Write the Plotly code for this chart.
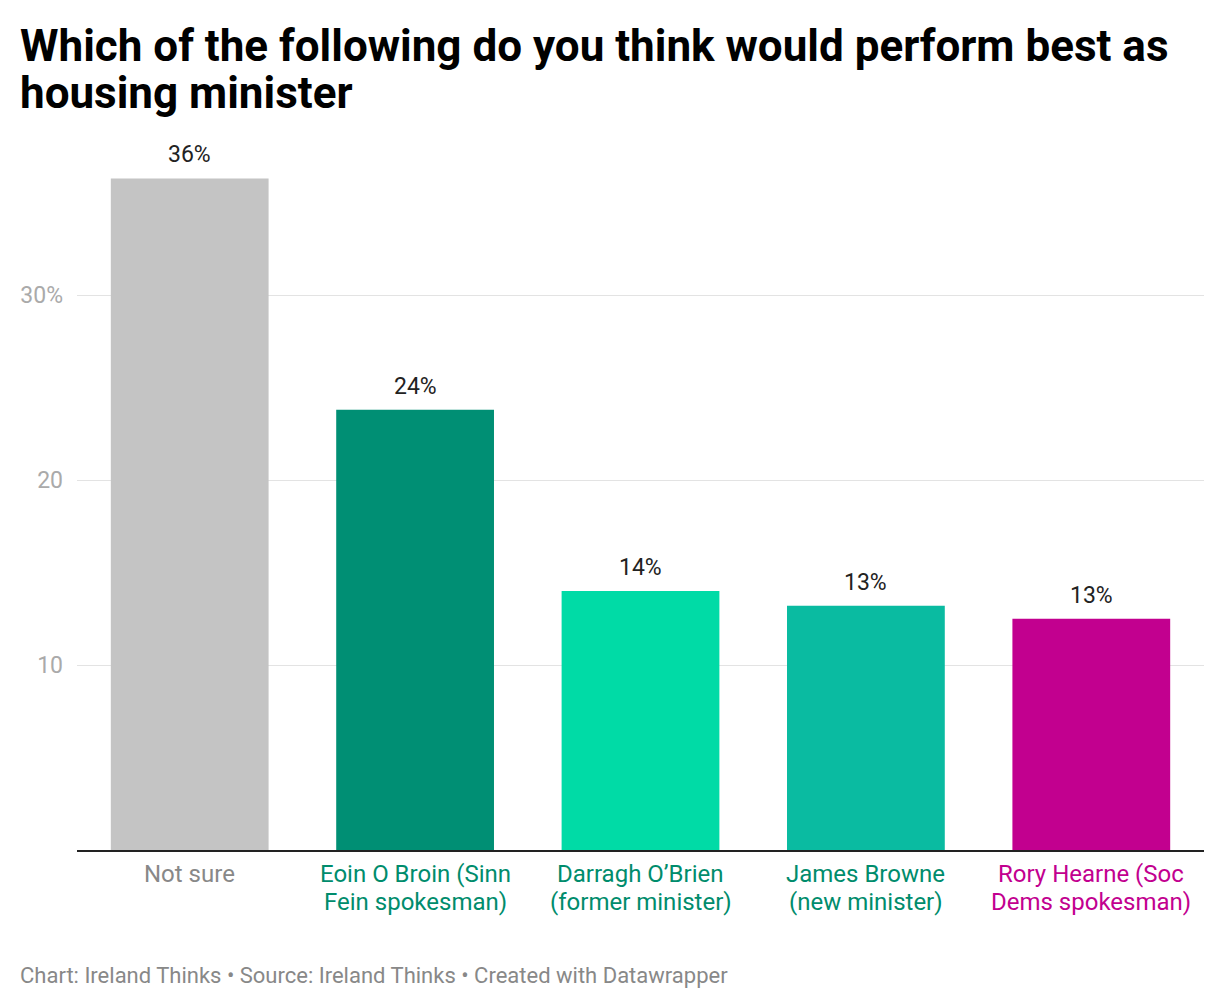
import plotly.graph_objects as go

categories = ["Not sure", "Eoin O Broin (Sinn<br>Fein spokesman)", "Darragh O’Brien<br>(former minister)",
              "James Browne<br>(new minister)", "Rory Hearne (Soc<br>Dems spokesman)"]
values = [36.3, 23.8, 14.0, 13.2, 12.5]
value_labels = ["36%", "24%", "14%", "13%", "13%"]
bar_colors = ["#c4c4c4", "#008f74", "#00dba6", "#0abba1", "#c2008f"]
label_colors = ["#888888", "#008c6c", "#008c6c", "#008c6c", "#c2008f"]
y_tickvals = [10, 20, 30]
y_ticktext = ["10", "20", "30%"]
title_lines = ["Which of the following do you think would perform best as", "housing minister"]
footer = "Chart: Ireland Thinks • Source: Ireland Thinks • Created with Datawrapper"

FONT = "Roboto"
x_idx = list(range(len(categories)))

# page has ~8px body offset; figure coords = page coords - 8
W, H = 1216, 1000
ML, MT = 69, 139
PLOT_W = 1196 - ML
PLOT_H = 842 - MT

def px_x(page_x):
    return (page_x - 8 - ML) / PLOT_W

def px_y(page_y):
    return (842 - (page_y - 8)) / PLOT_H

fig = go.Figure()
fig.add_trace(go.Bar(
    x=x_idx, y=values,
    marker=dict(color=bar_colors, line=dict(width=0)),
    cliponaxis=False, hoverinfo="skip",
))

for i, (v, lab) in enumerate(zip(values, value_labels)):
    fig.add_annotation(
        x=i, y=v, xref="x", yref="y", text=lab, showarrow=False,
        yanchor="bottom", yshift=8,
        font=dict(family=FONT, size=23, color="#222222"),
    )

# category labels, one annotation per line for tight line spacing
for i, (cat, col) in enumerate(zip(categories, label_colors)):
    for j, line in enumerate(cat.split("<br>")):
        fig.add_annotation(
            x=i, xref="x", y=px_y(874 + 28 * j), yref="paper",
            text=line, showarrow=False, xanchor="center", yanchor="middle",
            font=dict(family=FONT, size=24, color=col),
        )

fig.update_layout(
    width=W, height=H,
    margin=dict(l=ML, r=W - 1196, t=MT, b=H - 842),
    paper_bgcolor="white", plot_bgcolor="white",
    bargap=0.3, showlegend=False,
    font=dict(family=FONT),
    xaxis=dict(
        tickvals=x_idx, showticklabels=False,
        showgrid=False, zeroline=False,
        showline=True, linecolor="#222222", linewidth=2,
        ticks="", range=[-0.5, len(categories) - 0.5],
    ),
    yaxis=dict(
        range=[0, 38], tickvals=y_tickvals, ticktext=y_ticktext,
        tickfont=dict(family=FONT, size=23, color="#aaaaaa"),
        showgrid=True, gridcolor="#e3e3e3", gridwidth=1,
        zeroline=False, showline=False, ticks="", ticklabelstandoff=13,
    ),
)

for line, cy in zip(title_lines, [46, 93]):
    fig.add_annotation(
        text=f"<b>{line}</b>", xref="paper", yref="paper",
        x=px_x(18), y=px_y(cy), xanchor="left", yanchor="middle",
        showarrow=False, font=dict(family=FONT, size=44, color="#000000"),
    )

fig.add_annotation(
    text=footer, xref="paper", yref="paper",
    x=px_x(18), y=px_y(975), xanchor="left", yanchor="middle", showarrow=False,
    font=dict(family=FONT, size=22, color="#888888"),
)

fig.write_html("out.html")
